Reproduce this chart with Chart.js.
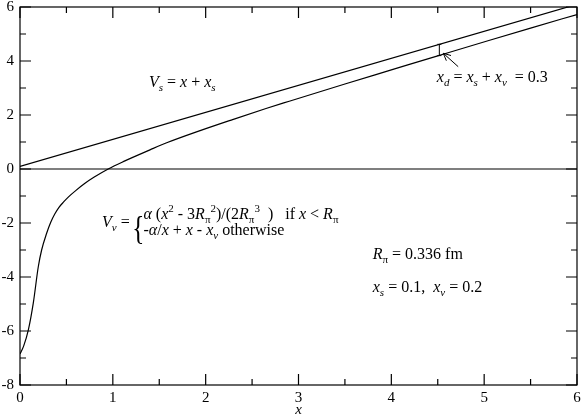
<!DOCTYPE html>
<html>
<head>
  <title>Scalar and vector potentials</title>
  <script src="https://cdn.jsdelivr.net/npm/chart.js"></script>
  <style>
    html, body { margin: 0; padding: 0; background: #fff; }
    #wrap { width: 581px; height: 415px; }
  </style>
</head>
<body>
  <div id="wrap"><canvas id="potChart" width="581" height="415"></canvas></div>
  <script>
    // axis ranges and ticks
    const xRange = [0, 6];
    const yRange = [-8, 6];
    const xStep = 1, xMinor = 0.5;
    const yStep = 2, yMinor = 1;

    // V_s = x + x_s (straight line)
    const vsX = [0, 6];
    const vsY = [0.1, 6.1];

    // V_v
    const vvX = [0, 0.04, 0.09, 0.143, 0.197, 0.233, 0.287, 0.33, 0.376, 0.42, 0.47, 0.52, 0.6, 0.7, 0.8, 0.95, 1.13, 1.22, 1.4, 1.58, 1.94, 2.29, 2.65, 2.9, 3.5, 4.0, 4.5, 5.05, 5.5, 6.0];
    const vvY = [-6.85, -6.55, -5.96, -4.97, -3.62, -3.0, -2.38, -1.98, -1.66, -1.42, -1.22, -1.04, -0.80, -0.53, -0.30, 0.0, 0.30, 0.44, 0.71, 0.97, 1.42, 1.83, 2.24, 2.51, 3.15, 3.67, 4.19, 4.76, 5.22, 5.72];

    // y = 0 line
    const zeroX = [0, 6];
    const zeroY = [0, 0];

    const toPts = (xs, ys) => xs.map((x, i) => ({ x: x, y: ys[i] }));

    const SERIF = '"Liberation Serif", "DejaVu Serif", serif';

    // draw a run of text pieces: [text, kind], kind r=roman i=italic b=sub(italic) g=sub(roman) p=sup
    function rich(ctx, x, y, parts) {
      let cx = x;
      for (const [txt, kind] of parts) {
        let font = '16px ' + SERIF, dy = 0;
        if (kind === 'i') font = 'italic 16px ' + SERIF;
        if (kind === 'b') { font = 'italic 11px ' + SERIF; dy = 4; }
        if (kind === 'g') { font = '11px ' + SERIF; dy = 4; }
        if (kind === 'p') { font = '11px ' + SERIF; dy = -7; }
        ctx.font = font;
        ctx.fillText(txt, cx, y + dy);
        cx += ctx.measureText(txt).width;
      }
    }

    const framePlugin = {
      id: 'frame',
      afterDraw(chart) {
        const ctx = chart.ctx;
        const a = chart.chartArea;
        const xs = chart.scales.x, ys = chart.scales.y;
        ctx.save();
        ctx.strokeStyle = '#000';
        ctx.lineWidth = 1.2;
        ctx.strokeRect(a.left, a.top, a.right - a.left, a.bottom - a.top);
        ctx.beginPath();
        for (let v = xRange[0]; v <= xRange[1] + 1e-9; v += xMinor) {
          const px = xs.getPixelForValue(v);
          const len = Math.abs(v / xStep - Math.round(v / xStep)) < 1e-6 ? 11 : 6;
          ctx.moveTo(px, a.bottom); ctx.lineTo(px, a.bottom - len);
          ctx.moveTo(px, a.top); ctx.lineTo(px, a.top + len);
        }
        for (let v = yRange[0]; v <= yRange[1] + 1e-9; v += yMinor) {
          const py = ys.getPixelForValue(v);
          const len = Math.abs(v / yStep - Math.round(v / yStep)) < 1e-6 ? 11 : 6;
          ctx.moveTo(a.left, py); ctx.lineTo(a.left + len, py);
          ctx.moveTo(a.right, py); ctx.lineTo(a.right - len, py);
        }
        ctx.stroke();

        // annotations, placed in data units
        const X = v => xs.getPixelForValue(v);
        const Y = v => ys.getPixelForValue(v);
        ctx.fillStyle = '#000';
        ctx.textBaseline = 'alphabetic';
        ctx.textAlign = 'left';

        rich(ctx, X(1.39), Y(3.03), [['V', 'i'], ['s', 'b'], [' = ', 'r'], ['x', 'i'], [' + ', 'r'], ['x', 'i'], ['s', 'b']]);
        rich(ctx, X(4.49), Y(3.24), [['x', 'i'], ['d', 'b'], [' = ', 'r'], ['x', 'i'], ['s', 'b'], [' + ', 'r'], ['x', 'i'], ['v', 'b'], ['  = 0.3', 'r']]);

        rich(ctx, X(0.883), Y(-2.14), [['V', 'i'], ['v', 'b'], [' = ', 'r']]);
        // brace, narrowed
        ctx.save();
        ctx.translate(X(1.21), Y(-2.58));
        ctx.scale(0.7, 0.95);
        ctx.font = '36px ' + SERIF;
        ctx.fillText('{', 0, 0);
        ctx.restore();
        rich(ctx, X(1.33), Y(-1.85), [['\u03b1', 'i'], [' (', 'r'], ['x', 'i'], ['2', 'p'], [' - 3', 'r'], ['R', 'i'], ['\u03c0', 'g'], ['2', 'p'], [')/(2', 'r'], ['R', 'i'], ['\u03c0', 'g'], ['3', 'p'], ['  )   if ', 'r'], ['x', 'i'], [' < ', 'r'], ['R', 'i'], ['\u03c0', 'g']]);
        rich(ctx, X(1.33), Y(-2.44), [['-', 'r'], ['\u03b1', 'i'], ['/', 'r'], ['x', 'i'], [' + ', 'r'], ['x', 'i'], [' - ', 'r'], ['x', 'i'], ['v', 'b'], [' otherwise', 'r']]);

        rich(ctx, X(3.80), Y(-3.33), [['R', 'i'], ['\u03c0', 'g'], [' = 0.336 fm', 'r']]);
        rich(ctx, X(3.80), Y(-4.54), [['x', 'i'], ['s', 'b'], [' = 0.1,  ', 'r'], ['x', 'i'], ['v', 'b'], [' = 0.2', 'r']]);

        // separation marker and arrow
        ctx.lineWidth = 1;
        ctx.beginPath();
        const mx = X(4.517);
        ctx.moveTo(mx, Y(4.617)); ctx.lineTo(mx, Y(4.2));
        ctx.moveTo(mx - 2, Y(4.617)); ctx.lineTo(mx + 2, Y(4.617));
        ctx.moveTo(mx - 2, Y(4.2)); ctx.lineTo(mx + 2, Y(4.2));
        const hx = X(4.56), hy = Y(4.285), tx = X(4.72), ty = Y(3.79);
        ctx.moveTo(tx, ty); ctx.lineTo(hx, hy);
        const ang = Math.atan2(hy - ty, hx - tx);
        for (const s of [-0.45, 0.45]) {
          ctx.moveTo(hx, hy);
          ctx.lineTo(hx - 8 * Math.cos(ang + s), hy - 8 * Math.sin(ang + s));
        }
        ctx.stroke();
        ctx.restore();
      }
    };

    const lineStyle = { borderColor: '#000', borderWidth: 1.2, pointRadius: 0, showLine: true, fill: false };

    const noPad = s => { s.paddingTop = 0; s.paddingBottom = 0; s.paddingLeft = 0; s.paddingRight = 0; };

    new Chart(document.getElementById('potChart'), {
      type: 'scatter',
      data: {
        datasets: [
          Object.assign({ label: 'Vs', data: toPts(vsX, vsY) }, lineStyle),
          Object.assign({ label: 'Vv', data: toPts(vvX, vvY), cubicInterpolationMode: 'monotone' }, lineStyle),
          Object.assign({ label: 'zero', data: toPts(zeroX, zeroY) }, lineStyle)
        ]
      },
      options: {
        responsive: false,
        animation: false,
        devicePixelRatio: 1,
        layout: { padding: { top: 7, right: 4, left: 0, bottom: 0 } },
        plugins: { legend: { display: false }, tooltip: { enabled: false } },
        scales: {
          x: {
            type: 'linear', min: xRange[0], max: xRange[1],
            grid: { display: false, drawTicks: false },
            border: { display: false },
            ticks: { stepSize: xStep, padding: 4, color: '#000', font: { family: SERIF, size: 15 } },
            title: { display: true, text: 'x', color: '#000', padding: { top: 0, bottom: -4 }, font: { family: SERIF, size: 15, style: 'italic' } },
            afterFit: s => { s.height = 30; noPad(s); }
          },
          y: {
            type: 'linear', min: yRange[0], max: yRange[1],
            grid: { display: false, drawTicks: false },
            border: { display: false },
            ticks: { stepSize: yStep, padding: 6, color: '#000', font: { family: SERIF, size: 15 } },
            afterFit: s => { s.width = 20; noPad(s); }
          }
        }
      },
      plugins: [framePlugin]
    });
  </script>
</body>
</html>
